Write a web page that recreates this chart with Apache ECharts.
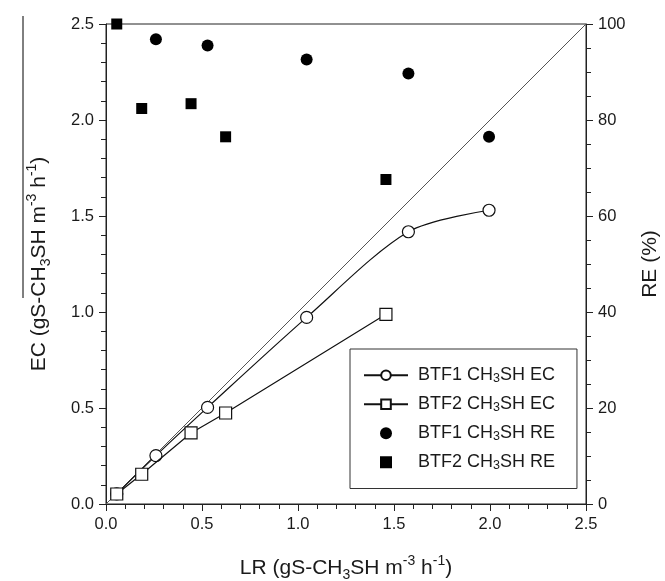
<!DOCTYPE html>
<html>
<head>
<meta charset="utf-8">
<script src="https://cdn.jsdelivr.net/npm/echarts@6/dist/echarts.min.js"></script>
<style>html,body{margin:0;padding:0;background:#fff}#c{width:665px;height:581px}</style>
</head>
<body>
<div id="c"></div>
<script>
// ---- data ----
var btf1LR = [0.056, 0.26, 0.529, 1.045, 1.575, 1.995];
var btf1EC = [0.053, 0.252, 0.503, 0.972, 1.418, 1.530];
var btf1RE_LR = [0.26, 0.529, 1.045, 1.575, 1.995];
var btf1RE = [96.8, 95.5, 92.6, 89.7, 76.5];
var btf2LR = [0.056, 0.186, 0.443, 0.623, 1.458];
var btf2EC = [0.052, 0.155, 0.370, 0.474, 0.988];
var btf2RE = [100, 82.4, 83.4, 76.5, 67.6];
var diagX = [0, 2.5];
var diagY = [0, 2.5];
var seriesNames = ['BTF1 CH3SH EC', 'BTF2 CH3SH EC', 'BTF1 CH3SH RE', 'BTF2 CH3SH RE'];
var xTitle = 'LR (gS-CH{sub|3}SH m{sup|-3} h{sup|-1})';
var yTitle = 'EC (gS-CH{sub|3}SH m{sup|-3} h{sup|-1})';
var y2Title = 'RE (%)';

function zip(a, b) { return a.map(function (v, i) { return [v, b[i]]; }); }

var FONT = 'Liberation Sans, Arial, sans-serif';
var INK = '#1a1a1a';
var richSS = {
  sub: {fontSize: 14, lineHeight: 14, verticalAlign: 'bottom', fontFamily: FONT, color: INK},
  sup: {fontSize: 14, lineHeight: 14, verticalAlign: 'top', fontFamily: FONT, color: INK}
};
var axisCommon = {
  axisLine: {show: true, lineStyle: {color: '#222', width: 1}},
  axisTick: {show: true, inside: false, length: 7, lineStyle: {color: '#222'}},
  minorTick: {show: true, splitNumber: 5, length: 5, lineStyle: {color: '#222'}},
  splitLine: {show: false},
  axisLabel: {fontFamily: FONT, fontSize: 16.5, color: INK, margin: 12},
  nameLocation: 'middle',
  nameTextStyle: {fontFamily: FONT, fontSize: 21, color: INK, lineHeight: 28, rich: richSS}
};

var chart = echarts.init(document.getElementById('c'), null, {renderer: 'canvas'});
chart.setOption({
  animation: false,
  backgroundColor: '#fff',
  grid: {left: 106, top: 24, width: 480, height: 480, containLabel: false, outerBoundsMode: 'none',
    show: true, borderColor: '#222', borderWidth: 1, backgroundColor: 'transparent'},
  xAxis: Object.assign({}, axisCommon, {
    type: 'value', min: 0, max: 2.5, interval: 0.5,
    name: xTitle, nameGap: 50,
    axisLabel: Object.assign({}, axisCommon.axisLabel, {formatter: function (v) { return v.toFixed(1); }})
  }),
  yAxis: [
    Object.assign({}, axisCommon, {
      type: 'value', min: 0, max: 2.5, interval: 0.5, position: 'left',
      name: yTitle, nameGap: 53, nameRotate: 90,
      axisLabel: Object.assign({}, axisCommon.axisLabel, {formatter: function (v) { return v.toFixed(1); }})
    }),
    Object.assign({}, axisCommon, {
      type: 'value', min: 0, max: 100, interval: 20, position: 'right',
      name: y2Title, nameGap: 44, nameRotate: 90,
      minorTick: Object.assign({}, axisCommon.minorTick, {splitNumber: 4})
    })
  ],
  legend: {
    data: [
      {name: seriesNames[0]},
      {name: seriesNames[1]},
      {name: seriesNames[2], icon: 'circle'},
      {name: seriesNames[3], icon: 'path://M0,0L10,0L10,10L0,10Z'}
    ],
    orient: 'vertical',
    left: 350, top: 349,
    padding: [16, 22, 16, 13],
    itemWidth: 44, itemHeight: 12, itemGap: 8.5,
    borderColor: '#333', borderWidth: 1, backgroundColor: '#fff',
    formatter: function (n) { return n.replace('CH3SH', 'CH{sub|3}SH'); },
    textStyle: {fontFamily: FONT, fontSize: 18, color: INK, lineHeight: 20.5, padding: [0, 0, 0, 5],
      rich: {sub: {fontSize: 12.5, lineHeight: 12.5, verticalAlign: 'bottom', fontFamily: FONT, color: INK}}}
  },
  graphic: [{type: 'line', shape: {x1: 23, y1: 16, x2: 23, y2: 298}, style: {stroke: '#000', lineWidth: 1}}],
  series: [
    {type: 'line', name: 'diag', data: zip(diagX, diagY), symbol: 'none', lineStyle: {color: '#555', width: 1}, silent: true, z: 1},
    {type: 'line', name: seriesNames[0], data: zip(btf1LR, btf1EC), smooth: 0.3, symbol: 'circle', symbolSize: 12,
      itemStyle: {color: '#fff', borderColor: '#111', borderWidth: 1.2}, lineStyle: {color: '#111', width: 1.2}, z: 3},
    {type: 'line', name: seriesNames[1], data: zip(btf2LR, btf2EC), symbol: 'rect', symbolSize: 12,
      itemStyle: {color: '#fff', borderColor: '#111', borderWidth: 1.2}, lineStyle: {color: '#111', width: 1.2}, z: 4},
    {type: 'scatter', name: seriesNames[2], yAxisIndex: 1, data: zip(btf1RE_LR, btf1RE), symbol: 'circle', symbolSize: 12,
      itemStyle: {color: '#000', opacity: 1}, z: 5},
    {type: 'scatter', name: seriesNames[3], yAxisIndex: 1, data: zip(btf2LR, btf2RE), symbol: 'rect', symbolSize: 11,
      itemStyle: {color: '#000', opacity: 1}, z: 5}
  ]
});
</script>
</body>
</html>
